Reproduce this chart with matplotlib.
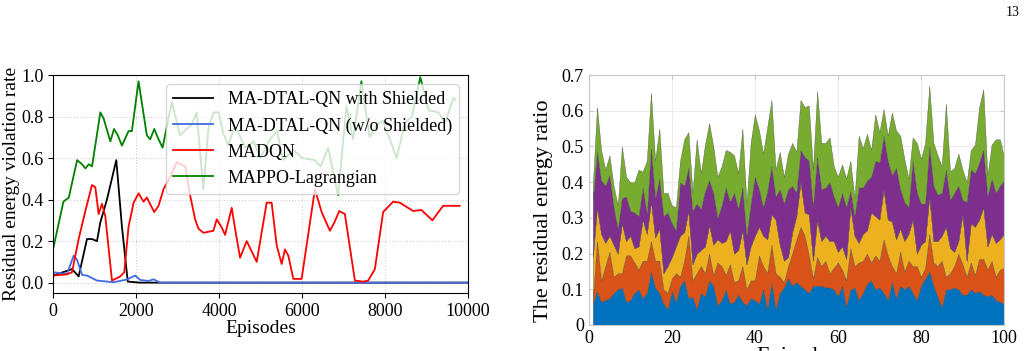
import numpy as np
import matplotlib
matplotlib.use("Agg")
import matplotlib.pyplot as plt

plt.rcParams["font.family"] = "serif"
plt.rcParams["font.serif"] = ["Liberation Serif", "DejaVu Serif"]

# ---- left panel: violation rate curves (episode, value) ----
shield_x = [0, 457, 617, 818, 938, 1059, 1139, 1299, 1524, 1660, 1800, 2100, 2600, 10000]
shield_y = [0.034, 0.065, 0.03, 0.21, 0.21, 0.20, 0.29, 0.40, 0.59, 0.27, 0.005, 0.0, 0.0, 0.0]

noshield_x = [0, 337, 497, 577, 700, 818, 1059, 1460, 1780, 1980, 2100, 2300, 2422, 2580, 10000]
noshield_y = [0.05, 0.042, 0.13, 0.11, 0.037, 0.034, 0.01, 0.002, 0.015, 0.034, 0.013, 0.008, 0.016, 0.0, 0.0]

madqn_x = [0, 337, 457, 617, 778, 938, 1018, 1099, 1179, 1259, 1420, 1620, 1716, 1820, 1941,
           2061, 2181, 2260, 2438, 2542, 2662, 2823, 2983, 3184, 3304, 3424, 3504, 3625, 3865,
           3945, 4066, 4146, 4306, 4386, 4507, 4667, 4908, 5148, 5268, 5389, 5509, 5589, 5670,
           5790, 5990, 6311, 6472, 6672, 6780, 6897, 7033, 7274, 7474, 7594, 7755, 7955, 8196,
           8356, 8677, 8877, 9142, 9399, 9639, 9800]
madqn_y = [0.034, 0.04, 0.05, 0.21, 0.345, 0.47, 0.46, 0.33, 0.38, 0.32, 0.01, 0.03, 0.05, 0.27,
           0.385, 0.43, 0.39, 0.41, 0.34, 0.37, 0.45, 0.51, 0.58, 0.56, 0.42, 0.305, 0.26, 0.24,
           0.25, 0.305, 0.265, 0.23, 0.36, 0.26, 0.12, 0.20, 0.10, 0.385, 0.385, 0.18, 0.09, 0.16,
           0.13, 0.018, 0.018, 0.45, 0.34, 0.25, 0.29, 0.345, 0.33, 0.01, 0.005, 0.01, 0.065, 0.34,
           0.39, 0.385, 0.345, 0.35, 0.30, 0.37, 0.37, 0.37]

mappo_x = [0, 250, 380, 580, 700, 780, 860, 940, 1140, 1220, 1380, 1470, 1560, 1660, 1820, 1900,
           2060, 2260, 2340, 2440, 2520, 2640, 2740, 2860, 3060, 3220, 3340, 3460, 3620, 3750,
           3870, 3990, 4100, 4230, 4350, 4450, 4630, 4830, 5000, 5230, 5400, 5550, 5790, 6000,
           6310, 6450, 6630, 6870, 7070, 7230, 7430, 7630, 7800, 7950, 8100, 8280, 8480, 8650,
           8850, 9050, 9290, 9450, 9650, 9700]
mappo_y = [0.16, 0.39, 0.41, 0.59, 0.57, 0.55, 0.57, 0.56, 0.82, 0.79, 0.68, 0.74, 0.71, 0.66,
           0.73, 0.73, 0.97, 0.71, 0.69, 0.74, 0.70, 0.65, 0.75, 0.87, 0.71, 0.74, 0.76, 0.82,
           0.45, 0.75, 0.82, 0.82, 0.72, 0.66, 0.74, 0.73, 0.65, 0.68, 0.60, 0.69, 0.73, 0.59,
           0.64, 0.60, 0.59, 0.56, 0.65, 0.42, 0.85, 0.69, 0.97, 0.70, 0.76, 0.78, 0.70, 0.60,
           0.77, 0.80, 0.99, 0.83, 0.82, 0.77, 0.89, 0.88]

# ---- right panel: cumulative tops of the stacked areas, episodes 1..100 ----
episodes = np.arange(1, 101)
top1 = [0.06, 0.095, 0.065, 0.07, 0.075, 0.09, 0.10, 0.105, 0.065, 0.07,
        0.09, 0.10, 0.075, 0.09, 0.15, 0.105, 0.09, 0.06, 0.045, 0.095,
        0.065, 0.11, 0.125, 0.075, 0.08, 0.045, 0.09, 0.08, 0.125, 0.11,
        0.055, 0.07, 0.10, 0.06, 0.065, 0.085, 0.065, 0.055, 0.075, 0.07,
        0.06, 0.10, 0.045, 0.12, 0.045, 0.09, 0.105, 0.13, 0.11, 0.12,
        0.11, 0.10, 0.09, 0.11, 0.11, 0.11, 0.105, 0.105, 0.10, 0.08,
        0.11, 0.052, 0.10, 0.105, 0.07, 0.09, 0.115, 0.125, 0.10, 0.105,
        0.09, 0.07, 0.12, 0.075, 0.11, 0.10, 0.11, 0.09, 0.07, 0.11,
        0.13, 0.15, 0.11, 0.08, 0.05, 0.10, 0.10, 0.105, 0.10, 0.085,
        0.085, 0.10, 0.09, 0.095, 0.085, 0.08, 0.085, 0.07, 0.065, 0.06]
top2 = [0.07, 0.235, 0.125, 0.165, 0.205, 0.135, 0.145, 0.145, 0.195, 0.195,
        0.175, 0.155, 0.18, 0.18, 0.235, 0.18, 0.18, 0.10, 0.09, 0.13,
        0.145, 0.135, 0.18, 0.25, 0.125, 0.145, 0.165, 0.145, 0.20, 0.14,
        0.175, 0.165, 0.14, 0.17, 0.12, 0.125, 0.165, 0.10, 0.125, 0.125,
        0.195, 0.165, 0.145, 0.225, 0.145, 0.135, 0.12, 0.165, 0.20, 0.24,
        0.275, 0.25, 0.195, 0.13, 0.19, 0.165, 0.18, 0.145, 0.16, 0.175,
        0.155, 0.125, 0.215, 0.165, 0.175, 0.18, 0.20, 0.175, 0.195, 0.18,
        0.24, 0.195, 0.165, 0.145, 0.205, 0.15, 0.18, 0.165, 0.165, 0.135,
        0.16, 0.255, 0.175, 0.165, 0.18, 0.135, 0.145, 0.165, 0.20, 0.17,
        0.135, 0.175, 0.14, 0.185, 0.185, 0.155, 0.18, 0.135, 0.155, 0.16]
top3 = [0.19, 0.33, 0.255, 0.23, 0.25, 0.225, 0.20, 0.285, 0.235, 0.25,
        0.215, 0.22, 0.295, 0.255, 0.345, 0.245, 0.27, 0.145, 0.165, 0.19,
        0.22, 0.25, 0.26, 0.32, 0.17, 0.20, 0.21, 0.22, 0.28, 0.225,
        0.24, 0.23, 0.235, 0.265, 0.20, 0.21, 0.265, 0.17, 0.22, 0.25,
        0.275, 0.25, 0.24, 0.31, 0.295, 0.225, 0.18, 0.19, 0.26, 0.305,
        0.40, 0.315, 0.31, 0.18, 0.295, 0.235, 0.25, 0.235, 0.235, 0.205,
        0.22, 0.185, 0.33, 0.25, 0.23, 0.255, 0.265, 0.315, 0.305, 0.295,
        0.38, 0.295, 0.29, 0.24, 0.27, 0.235, 0.255, 0.295, 0.20, 0.225,
        0.235, 0.36, 0.235, 0.235, 0.25, 0.275, 0.215, 0.205, 0.235, 0.31,
        0.18, 0.285, 0.275, 0.295, 0.33, 0.22, 0.255, 0.23, 0.24, 0.255]
top4 = [0.35, 0.485, 0.405, 0.39, 0.42, 0.33, 0.27, 0.355, 0.36, 0.32,
        0.315, 0.305, 0.385, 0.31, 0.495, 0.355, 0.41, 0.305, 0.315, 0.285,
        0.265, 0.40, 0.39, 0.44, 0.32, 0.34, 0.325, 0.375, 0.405, 0.37,
        0.30, 0.335, 0.385, 0.345, 0.37, 0.325, 0.385, 0.25, 0.34, 0.415,
        0.38, 0.33, 0.375, 0.445, 0.36, 0.38, 0.34, 0.38, 0.39, 0.37,
        0.49, 0.47, 0.46, 0.33, 0.47, 0.38, 0.385, 0.40, 0.36, 0.33,
        0.37, 0.33, 0.375, 0.305, 0.385, 0.385, 0.405, 0.415, 0.46, 0.455,
        0.53, 0.46, 0.42, 0.44, 0.38, 0.345, 0.33, 0.46, 0.37, 0.34,
        0.34, 0.50, 0.39, 0.365, 0.37, 0.435, 0.35, 0.37, 0.39, 0.35,
        0.345, 0.435, 0.425, 0.455, 0.49, 0.36, 0.41, 0.37, 0.39, 0.405]
top5 = [0.39, 0.61, 0.49, 0.435, 0.475, 0.39, 0.335, 0.50, 0.415, 0.40,
        0.40, 0.435, 0.43, 0.46, 0.65, 0.46, 0.55, 0.37, 0.37, 0.335,
        0.33, 0.46, 0.52, 0.54, 0.37, 0.52, 0.425, 0.505, 0.565, 0.50,
        0.415, 0.445, 0.49, 0.485, 0.475, 0.425, 0.55, 0.34, 0.51, 0.59,
        0.545, 0.48, 0.555, 0.63, 0.435, 0.485, 0.415, 0.48, 0.51, 0.485,
        0.63, 0.61, 0.615, 0.435, 0.655, 0.51, 0.51, 0.525, 0.445, 0.415,
        0.45, 0.41, 0.46, 0.355, 0.53, 0.495, 0.535, 0.49, 0.59, 0.54,
        0.605, 0.53, 0.595, 0.545, 0.53, 0.465, 0.41, 0.525, 0.51, 0.465,
        0.51, 0.67, 0.51, 0.475, 0.445, 0.62, 0.43, 0.44, 0.48, 0.435,
        0.40, 0.49, 0.505, 0.61, 0.66, 0.42, 0.505, 0.52, 0.52, 0.47]

fig = plt.figure(figsize=(10.32, 3.51), dpi=100)

# left
ax1 = fig.add_axes([0.0514, 0.1652, 0.4021, 0.6211])
ax1.plot(shield_x, shield_y, color="black", lw=1.3, label="MA-DTAL-QN with Shielded")
ax1.plot(noshield_x, noshield_y, color="royalblue", lw=1.3, label="MA-DTAL-QN (w/o Shielded)")
ax1.plot(madqn_x, madqn_y, color="red", lw=1.3, label="MADQN")
ax1.plot(mappo_x, mappo_y, color="green", lw=1.3, label="MAPPO-Lagrangian")
ax1.set_xlim(0, 10000)
ax1.set_ylim(-0.05, 1.0)
ax1.set_xticks([0, 2000, 4000, 6000, 8000, 10000])
ax1.set_yticks([0.0, 0.2, 0.4, 0.6, 0.8, 1.0])
ax1.yaxis.set_major_formatter(matplotlib.ticker.FormatStrFormatter("%.1f"))
ax1.tick_params(labelsize=13)
ax1.grid(True, linestyle=":", color="#d0d0d0", lw=0.8)
ax1.set_xlabel("Episodes", fontsize=14, labelpad=0)
ax1.set_ylabel("Residual energy violation rate", fontsize=14, labelpad=1)
ax1.legend(loc="upper right", fontsize=13, handlelength=2.2, bbox_to_anchor=(1.0, 1.0))

# right
ax2 = fig.add_axes([0.5704, 0.0741, 0.4025, 0.7122])
t = np.vstack([top1, top2, top3, top4, top5])
layers = np.diff(np.vstack([np.zeros(len(episodes)), t]), axis=0)
layers = np.clip(layers, 0, None)
colors = ["#0072BD", "#D95319", "#EDB120", "#7E2F8E", "#77AC30"]
ax2.stackplot(episodes, layers, colors=colors, edgecolor="#4a4a4a", linewidth=0.25)
ax2.set_xlim(0, 100)
ax2.set_ylim(0, 0.7)
ax2.set_xticks([0, 20, 40, 60, 80, 100])
ax2.set_yticks([0, 0.1, 0.2, 0.3, 0.4, 0.5, 0.6, 0.7])
ax2.set_yticklabels(["0", "0.1", "0.2", "0.3", "0.4", "0.5", "0.6", "0.7"])
ax2.set_axisbelow(True)
ax2.grid(True, color="#ebebeb", lw=0.8)
for s in ax2.spines.values():
    s.set_color("#c8c8c8")
ax2.tick_params(direction="in", length=3, color="#c8c8c8", labelsize=13, top=True, right=True)
ax2.set_xlabel("Episodes", fontsize=16, labelpad=0)
ax2.set_ylabel("The residual energy ratio", fontsize=16, labelpad=4)
ax2.yaxis.set_label_coords(-0.085, 0.455)

fig.text(0.981, 0.963, "13", fontsize=10, ha="center", va="center")

fig.savefig("out.png", dpi=100)
